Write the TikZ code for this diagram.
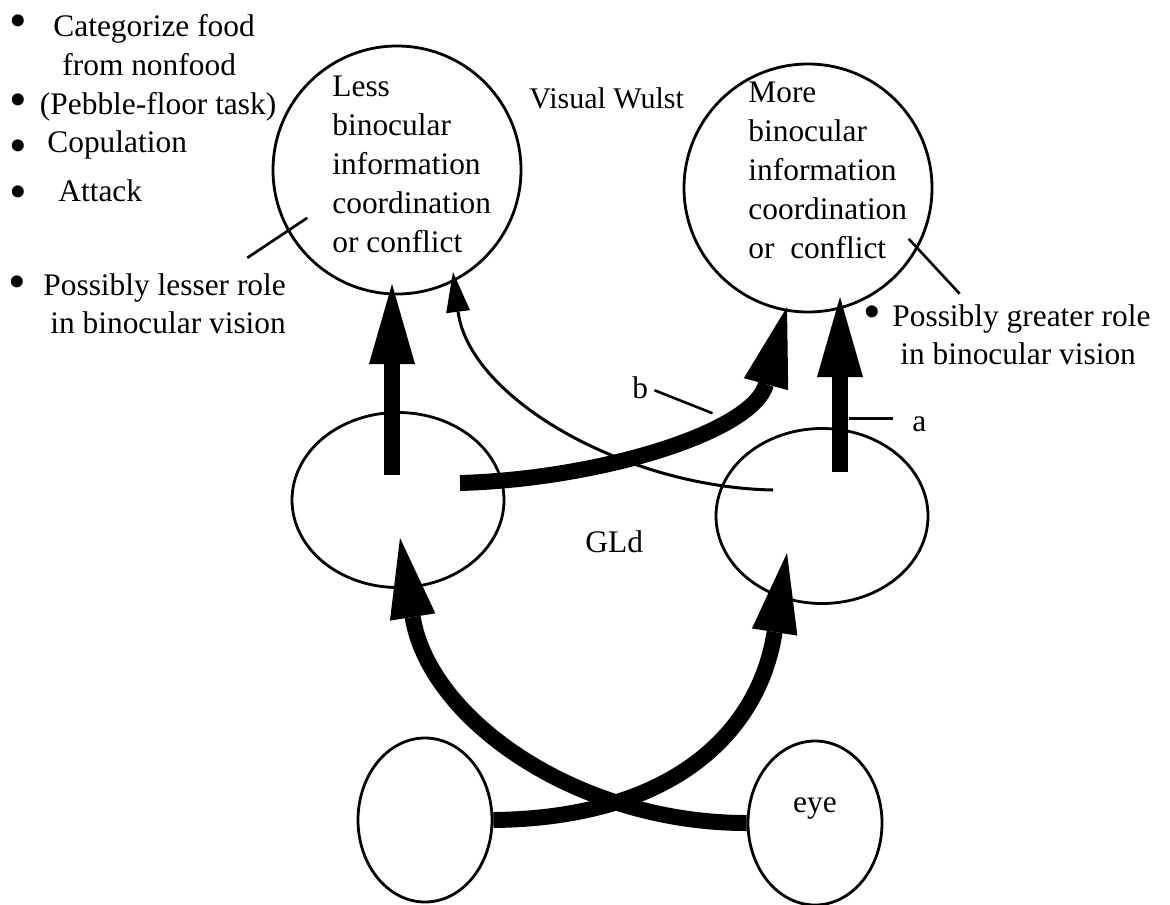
\documentclass[tikz,border=0pt]{standalone}
\usepackage{fontspec}
\setmainfont{Liberation Serif}
\usepackage{graphicx}
\usepackage{tikz}
\usetikzlibrary{shapes.geometric, arrows.meta, calc}
\newcommand{\blt}[1]{\raisebox{#1}{\scalebox{1.6}{\textbullet}}}

\begin{document}
\begin{tikzpicture}[x=0.5pt, y=-0.5pt,
      txt/.style={font=\fontsize{15.7}{19.4}\selectfont, inner sep=0pt},
      area/.style={circle, draw, line width=1.4pt, minimum size=124pt, inner sep=0pt},
      nucleus/.style={ellipse, draw, line width=1.4pt, minimum width=106pt,
      minimum height=87.5pt, inner sep=0pt},
      eyeball/.style={ellipse, draw, line width=1.4pt, minimum width=67pt,
      minimum height=82pt, inner sep=0pt},
      fatarrow/.style={line width=8pt,
      -{Triangle[length=40pt 0, width=23pt 0, line width=0pt]}},
      slimarrow/.style={line width=1.5pt,
      -{Triangle[length=20pt 0, width=12pt 0, line width=0pt]}},
      leader/.style={line width=1.3pt}]
\useasboundingbox (0,0) rectangle (1170,904);

\node[txt, anchor=north west, align=left] (tasks) at (9,14) {
\blt{-0.5pt}\hspace*{13.2pt}Categorize food\\
\hspace*{26.5pt}from nonfood\\
\blt{-1.4pt}\hspace*{6.5pt}(Pebble-floor task)\\
\blt{-4.9pt}\hspace*{10.2pt}Copulation\\[5pt]
\blt{-3.4pt}\hspace*{15.7pt}Attack};

\node[area] (lessW) at (397,170) {};
\node[area] (moreW) at (808,188) {};
\node[txt, anchor=north west, align=left] (lessTxt) at (332,76)
      {Less\\binocular\\information\\coordination\\or conflict};
\node[txt, anchor=north west, align=left] (moreTxt) at (748,82)
      {More\\binocular\\information\\coordination\\or~ conflict};
\node[txt, anchor=base west, font=\fontsize{15}{18}\selectfont] (wulst) at (529,108) {Visual Wulst};

\node[txt, anchor=north west, align=left] (lesserRole) at (8,273)
      {\blt{-1.5pt}\hspace*{8.7pt}Possibly lesser role\\\hspace*{21pt}in binocular vision};
\node[txt, anchor=north west, align=left] (greaterRole) at (863,304)
      {\blt{-1.4pt}\hspace*{5.7pt}Possibly greater role\\\hspace*{18.5pt}in binocular vision};

\node[nucleus] (gldL) at (398,500) {};
\node[nucleus] (gldR) at (822,516) {};
\node[txt, anchor=base west] (gld) at (585,552) {GLd};

\node[eyeball] (eyeL) at (425,820) {};
\node[eyeball] (eyeR) at (815,823) {};
\node[txt, anchor=base] (eyeTxt) at ($(eyeR)+(0,-11)$) {eye};

\draw[fatarrow] ($(gldL)+(-6,-25)$) -- ($(lessW)+(-5,114)$);
\draw[fatarrow] ($(gldR)+(18,-44)$) -- ($(moreW)+(32,109)$);
\draw[fatarrow] ($(gldL)+(62,-17)$) .. controls +(140,-4) and +(-34,125) .. ($(moreW)+(-21,119)$);
\draw[slimarrow] ($(gldR)+(-49,-26)$) .. controls +(-150,-3) and +(16,125) .. ($(lessW)+(56,102)$);
\draw[fatarrow] (eyeL.east) .. controls +(180,-2) and +(-28,179) .. ($(gldR)+(-35,37)$);
\draw[fatarrow] (eyeR.west) .. controls +(-170,0) and +(29,181) .. ($(gldL)+(2,38)$);

\draw[leader] ($(lessW.208)+(-39,29)$) -- ($(lessW.208)+(21,-11)$);
\draw[leader] ($(moreW.-29)+(-9,-10)$) -- ($(moreW.-29)+(42,45)$);

\node[txt, anchor=base west] (aLbl) at (912,431) {a};
\draw[leader] ($(aLbl.west)+(-19,-5)$) -- ++(-44,0);
\node[txt, anchor=base west] (bLbl) at (632,398) {b};
\draw[leader] ($(bLbl.east)+(6,3)$) -- ++(58,23);
\end{tikzpicture}
\end{document}
